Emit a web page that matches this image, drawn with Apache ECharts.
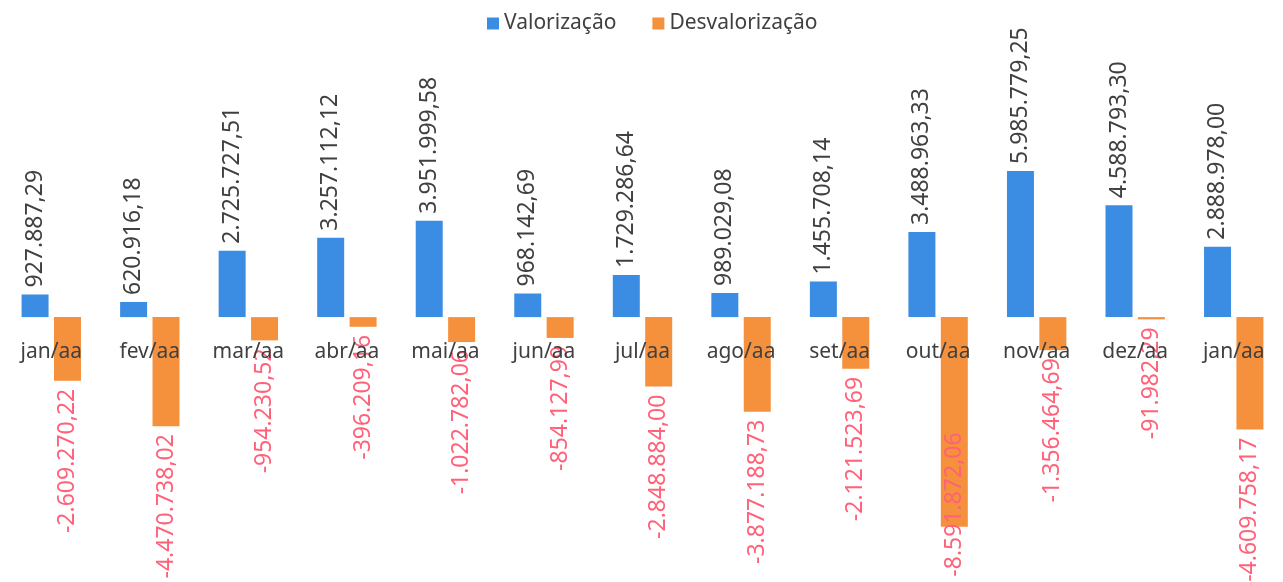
<!DOCTYPE html>
<html lang="pt-BR">
<head>
    <meta charset="UTF-8">
    <title>Valorização x Desvalorização</title>
    <script src="https://cdn.jsdelivr.net/npm/echarts@6/dist/echarts.min.js"></script>
    <style>
        html, body { margin: 0; padding: 0; background: #fff; }
        #main { width: 1283px; height: 582px; }
    </style>
</head>
<body>
<div id="main"></div>
<script>
    // meses
    let categories = ['jan/aa', 'fev/aa', 'mar/aa', 'abr/aa', 'mai/aa', 'jun/aa', 'jul/aa',
        'ago/aa', 'set/aa', 'out/aa', 'nov/aa', 'dez/aa', 'jan/aa'];
    let valorizacao = [927887.29, 620916.18, 2725727.51, 3257112.12, 3951999.58, 968142.69, 1729286.64,
        989029.08, 1455708.14, 3488963.33, 5985779.25, 4588793.30, 2888978.00];
    let desvalorizacao = [-2609270.22, -4470738.02, -954230.52, -396209.16, -1022782.06, -854127.99, -2848884.00,
        -3877188.73, -2121523.69, -8591872.06, -1356464.69, -91982.29, -4609758.17];

    // 1.234.567,89
    function fmt(v){
        let neg = v < 0;
        let s = Math.abs(v).toFixed(2).split('.');
        let inteiro = s[0].replace(/\B(?=(\d{3})+(?!\d))/g, '.');
        return (neg ? '-' : '') + inteiro + ',' + s[1];
    }

    let font = 'Noto Sans';
    let H = 582;
    let gridTop = 122, gridBottom = 21;
    let yMin = -10000000, yMax = 8000000;

    // onZero não funcionou aqui, então o rótulo do mês sobe até a linha do zero
    let zeroY = gridTop + (H - gridTop - gridBottom) * yMax / (yMax - yMin);
    let labelMargin = zeroY - (H - gridBottom) + 24;

    let myChart = echarts.init(document.getElementById('main'));

    // rótulo grande demais fica dentro da área (como no Excel)
    let negData = desvalorizacao.map(function(v){
        if ( v < -7000000 ) {
            return { value: v, label: { align: 'left', distance: 50 } };
        }
        return v;
    });

    let option = {
        animation: false,
        legend: {
            top: 8,
            left: 482,
            icon: 'rect',
            itemWidth: 12,
            itemHeight: 12,
            itemGap: 36,
            textStyle: { fontFamily: font, fontSize: 21, color: '#404040' },
            data: ['Valorização', 'Desvalorização']
        },
        grid: { left: 2, right: 0, top: gridTop, bottom: gridBottom, outerBoundsMode: 'none' },
        xAxis: {
            type: 'category',
            data: categories,
            z: 10,
            axisLine: { show: false },
            axisTick: { show: false },
            axisLabel: { show: true, margin: labelMargin, fontFamily: font, fontSize: 21, color: '#404040' }
        },
        yAxis: {
            type: 'value',
            min: yMin,
            max: yMax,
            axisLine: { show: false },
            axisTick: { show: false },
            axisLabel: { show: false },
            splitLine: { show: false }
        },
        series: [
            {
                name: 'Valorização',
                type: 'bar',
                data: valorizacao,
                barWidth: 27,
                barGap: '20%',
                itemStyle: { color: '#3b8de3' },
                label: {
                    show: true,
                    position: 'top',
                    rotate: 90,
                    align: 'left',
                    verticalAlign: 'middle',
                    distance: 7,
                    fontFamily: font,
                    fontSize: 23,
                    color: '#404040',
                    formatter: function(p){ return fmt(p.value); }
                }
            },
            {
                name: 'Desvalorização',
                type: 'bar',
                data: negData,
                barWidth: 27,
                itemStyle: { color: '#f5903d' },
                label: {
                    show: true,
                    position: 'bottom',
                    rotate: 90,
                    align: 'right',
                    verticalAlign: 'middle',
                    distance: 8,
                    fontFamily: font,
                    fontSize: 23,
                    color: '#ff6179',
                    formatter: function(p){ return fmt(p.value); }
                }
            }
        ]
    };
    myChart.setOption(option);
</script>
</body>
</html>
